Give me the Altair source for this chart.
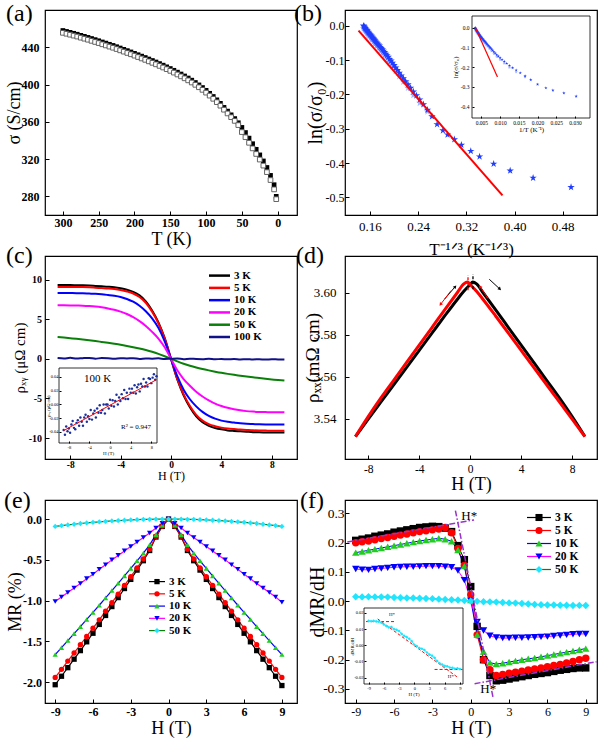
import math
import altair as alt
import pandas as pd

FONT = "Liberation Serif"
TK = 4                      # length of the inward major ticks on the main frames
W = 252                     # plot width of every panel
ROW_H = [205, 203, 203]     # plot height of each row of panels

STAR = ("M0,-1L0.2245,-0.309L0.951,-0.309L0.363,0.118L0.588,0.809L0,0.382"
        "L-0.588,0.809L-0.363,0.118L-0.951,-0.309L-0.2245,-0.309Z")

# field grid (T) shared by the magnetotransport sweeps
H_HALF = [-9, -8.5, -8, -7.5, -7, -6.5, -6, -5.5, -5, -4.5, -4, -3.5, -3, -2.5, -2, -1.5, -1, -0.5,
          0, 0.5, 1, 1.5, 2, 2.5, 3, 3.5, 4, 4.5, 5, 5.5, 6, 6.5, 7, 7.5, 8, 8.5, 9]

# ---------------- (a) conductivity vs temperature ----------------
a_T = [300, 295, 290, 285, 280, 275, 270, 265, 260, 255,
       250, 245, 240, 235, 230, 225, 220, 215, 210, 205,
       200, 195, 190, 185, 180, 175, 170, 165, 160, 155,
       150, 145, 140, 135, 130, 125, 120, 115, 110, 105,
       100, 95, 90, 85, 80, 75, 70, 65, 60, 55,
       50, 45, 40, 35, 30, 25, 20, 15, 10, 5, 2]
a_sigma_solid = [458.0, 457.0, 456.0, 455.0, 454.0, 452.8, 451.7, 450.6, 449.4, 448.2,
                 447.0, 445.7, 444.5, 443.2, 442.0, 440.6, 439.2, 437.8, 436.4, 435.0,
                 433.5, 432.0, 430.5, 429.0, 427.4, 425.8, 424.2, 422.5, 420.8, 419.0,
                 417.2, 415.3, 413.3, 411.3, 409.2, 407.0, 404.7, 402.2, 399.6, 396.8,
                 393.8, 390.6, 387.2, 383.6, 379.8, 375.5, 371.5, 367.5, 363.5, 359.0,
                 354.0, 348.5, 342.5, 336.5, 330.5, 324.5, 318.0, 311.0, 302.5, 292.5, 280.0]
a_sigma_open = [455.5, 454.5, 453.5, 452.5, 451.5, 450.3, 449.2, 448.1, 446.9, 445.7,
                444.5, 443.2, 442.0, 440.7, 439.5, 438.1, 436.7, 435.3, 433.9, 432.5,
                431.0, 429.5, 428.0, 426.5, 424.9, 423.3, 421.7, 420.0, 418.3, 416.5,
                414.7, 412.8, 410.8, 408.8, 406.7, 404.5, 402.2, 399.7, 397.1, 394.3,
                391.3, 388.1, 384.7, 381.1, 377.3, 373.0, 369.0, 365.0, 361.0, 356.5,
                349.0, 343.5, 337.5, 331.5, 325.5, 319.5, 313.0, 306.0, 297.5, 287.5, 277.0]

# ---------------- (b) ln(sigma/sigma0) vs T^-1/3 ----------------
b_T = [300, 295, 290, 285, 280, 275, 270, 265, 260, 255,
       250, 245, 240, 235, 230, 225, 220, 215, 210, 205,
       200, 195, 190, 185, 180, 175, 170, 165, 160, 155,
       150, 145, 140, 135, 130, 125, 120, 115, 110, 105,
       100, 95, 90, 85, 80, 75, 70, 65, 60, 55,
       50, 45, 41.5, 37, 33, 28.5, 25, 20.5, 16.5, 12.5, 8.3]
b_ln = [0.000, -0.002, -0.005, -0.007, -0.009, -0.011, -0.013, -0.015, -0.018, -0.020,
        -0.022, -0.025, -0.027, -0.029, -0.032, -0.035, -0.037, -0.040, -0.043, -0.046,
        -0.049, -0.052, -0.055, -0.058, -0.062, -0.065, -0.069, -0.073, -0.077, -0.082,
        -0.086, -0.091, -0.097, -0.102, -0.108, -0.115, -0.122, -0.129, -0.137, -0.145,
        -0.153, -0.162, -0.171, -0.181, -0.192, -0.203, -0.215, -0.229, -0.245, -0.264,
        -0.287, -0.305, -0.317, -0.331, -0.347, -0.365, -0.381, -0.402, -0.422, -0.443, -0.470]
b_T_second = [300, 290, 280, 270, 260, 250, 240, 230, 220, 210, 200, 190, 180,
              170, 160, 150, 140, 130, 120, 110, 100, 90, 80, 70, 60]
b_ln_second = [-0.008, -0.013, -0.018, -0.022, -0.027, -0.031, -0.036, -0.041, -0.047, -0.053,
               -0.059, -0.065, -0.072, -0.079, -0.087, -0.096, -0.107, -0.118, -0.132, -0.147,
               -0.163, -0.181, -0.202, -0.225, -0.250]
b_fit_x = [0.141, 0.380]
b_fit_ln = [-0.014, -0.494]
b_inset_fit_x = [0.0034, 0.0093]
b_inset_fit_ln = [0.0, -0.25]

# ---------------- (c) Hall resistivity ----------------
c_series = ["3 K", "5 K", "10 K", "20 K", "50 K", "100 K"]
c_3K = [9.30, 9.30, 9.30, 9.29, 9.28, 9.25, 9.20, 9.15, 9.10, 9.03, 8.90, 8.72, 8.45, 8.00, 7.25, 6.10, 4.60, 2.60,
        0.00, -2.60, -4.60, -6.10, -7.25, -8.00, -8.45, -8.72, -8.90, -9.03, -9.10, -9.15, -9.20, -9.25, -9.28,
        -9.29, -9.30, -9.30, -9.30]
c_5K = [9.07, 9.07, 9.07, 9.06, 9.05, 9.02, 8.97, 8.92, 8.87, 8.80, 8.68, 8.50, 8.24, 7.80, 7.07, 5.95, 4.49, 2.54,
        0.00, -2.54, -4.49, -5.95, -7.07, -7.80, -8.24, -8.50, -8.68, -8.80, -8.87, -8.92, -8.97, -9.02, -9.05,
        -9.06, -9.07, -9.07, -9.07]
c_10K = [8.30, 8.30, 8.29, 8.28, 8.26, 8.23, 8.20, 8.14, 8.05, 7.95, 7.80, 7.55, 7.20, 6.70, 6.00, 5.10, 3.90, 2.20,
         0.00, -2.20, -3.90, -5.10, -6.00, -6.70, -7.20, -7.55, -7.80, -7.95, -8.05, -8.14, -8.20, -8.23, -8.26,
         -8.28, -8.29, -8.30, -8.30]
c_20K = [6.75, 6.75, 6.74, 6.72, 6.70, 6.66, 6.60, 6.50, 6.36, 6.18, 5.95, 5.65, 5.25, 4.75, 4.15, 3.40, 2.55, 1.45,
         0.00, -1.45, -2.55, -3.40, -4.15, -4.75, -5.25, -5.65, -5.95, -6.18, -6.36, -6.50, -6.60, -6.66, -6.70,
         -6.72, -6.74, -6.75, -6.75]
c_50K = [2.75, 2.68, 2.60, 2.52, 2.43, 2.34, 2.24, 2.13, 2.02, 1.90, 1.77, 1.62, 1.46, 1.29, 1.10, 0.88, 0.62, 0.32,
         0.00, -0.32, -0.62, -0.88, -1.10, -1.29, -1.46, -1.62, -1.77, -1.90, -2.02, -2.13, -2.24, -2.34, -2.43,
         -2.52, -2.60, -2.68, -2.75]
c_100K = [0.10, 0.05, 0.12, 0.03, 0.08, 0.11, 0.02, 0.09, 0.06, 0.00, 0.07, 0.04, 0.08, -0.01, 0.05, 0.02, 0.06, -0.02,
          0.01, 0.03, -0.04, 0.02, -0.03, -0.05, 0.00, -0.06, -0.02, -0.07, -0.03, -0.08, -0.04, -0.09, -0.05, -0.10,
          -0.06, -0.08, -0.09]
ci_H = [-9, -8.75, -8.5, -8.25, -8, -7.75, -7.5, -7.25, -7, -6.75, -6.5, -6.25, -6, -5.75, -5.5, -5.25, -5, -4.75,
        -4.5, -4.25, -4, -3.75, -3.5, -3.25, -3, -2.75, -2.5, -2.25, -2, -1.75, -1.5, -1.25, -1, -0.75, -0.5, -0.25,
        0, 0.25, 0.5, 0.75, 1, 1.25, 1.5, 1.75, 2, 2.25, 2.5, 2.75, 3, 3.25, 3.5, 3.75, 4, 4.25, 4.5, 4.75,
        5, 5.25, 5.5, 5.75, 6, 6.25, 6.5, 6.75, 7, 7.25, 7.5, 7.75, 8, 8.25, 8.5, 8.75, 9]
ci_rho = [-0.037, -0.044, -0.032, -0.039, -0.035, -0.041, -0.029, -0.024, -0.034, -0.036,
          -0.027, -0.023, -0.031, -0.019, -0.025, -0.031, -0.019, -0.015, -0.025, -0.017,
          -0.021, -0.008, -0.022, -0.013, -0.009, -0.019, -0.006, -0.012, -0.001, -0.012,
          -0.008, 0.000, -0.013, 0.000, 0.000, -0.006, 0.007, -0.002, 0.006, -0.003,
          0.005, 0.014, 0.000, 0.010, 0.005, 0.015, 0.009, 0.021, 0.008, 0.017,
          0.008, 0.023, 0.017, 0.023, 0.017, 0.028, 0.016, 0.025, 0.029, 0.019,
          0.030, 0.026, 0.037, 0.026, 0.032, 0.026, 0.038, 0.037, 0.031, 0.039,
          0.044, 0.036, 0.041]
ci_fit_H = [-9, 9]
ci_fit_rho = [-0.038, 0.036]

# ---------------- (d) longitudinal resistivity, up and down sweeps ----------------
d_H_up = [-9, -8, -7, -6, -5, -4, -3, -2, -1, -0.5, 0, 0.2, 0.5, 1, 2, 3, 4, 5, 6, 7, 8, 9]
d_rho_up = [3.5315, 3.5398, 3.5480, 3.5562, 3.5644, 3.5726, 3.5808, 3.5890, 3.5970, 3.6008, 3.6040,
            3.6052, 3.6043, 3.6002, 3.5919, 3.5835, 3.5751, 3.5667, 3.5583, 3.5499, 3.5410, 3.5315]
d_H_down = [-9, -8, -7, -6, -5, -4, -3, -2, -1, -0.5, -0.2, 0, 0.5, 1, 2, 3, 4, 5, 6, 7, 8, 9]
d_rho_down = [3.5315, 3.5410, 3.5499, 3.5583, 3.5667, 3.5751, 3.5835, 3.5919, 3.6002, 3.6043, 3.6052,
              3.6040, 3.6008, 3.5970, 3.5890, 3.5808, 3.5726, 3.5644, 3.5562, 3.5480, 3.5398, 3.5315]

# ---------------- (e) magnetoresistance ----------------
mr_series = ["3 K", "5 K", "10 K", "20 K", "50 K"]
e_3K = [-2.03, -1.926, -1.821, -1.717, -1.612, -1.504, -1.399, -1.291, -1.181, -1.072, -0.962, -0.851, -0.739,
        -0.625, -0.510, -0.385, -0.22, -0.09, 0.0, -0.09, -0.22, -0.385, -0.510, -0.625, -0.739, -0.851, -0.962,
        -1.072, -1.181, -1.291, -1.399, -1.504, -1.612, -1.717, -1.821, -1.926, -2.04]
e_5K = [-1.94, -1.841, -1.740, -1.641, -1.540, -1.438, -1.337, -1.234, -1.129, -1.024, -0.920, -0.813, -0.706,
        -0.598, -0.487, -0.37, -0.21, -0.085, 0.0, -0.085, -0.21, -0.37, -0.487, -0.598, -0.706, -0.813, -0.920,
        -1.024, -1.129, -1.234, -1.337, -1.438, -1.540, -1.641, -1.740, -1.841, -1.94]
e_10K = [-1.66, -1.575, -1.489, -1.404, -1.318, -1.230, -1.144, -1.056, -0.966, -0.876, -0.787, -0.696, -0.604,
         -0.511, -0.417, -0.315, -0.19, -0.075, 0.0, -0.075, -0.19, -0.315, -0.417, -0.511, -0.604, -0.696, -0.787,
         -0.876, -0.966, -1.056, -1.144, -1.230, -1.318, -1.404, -1.489, -1.575, -1.66]
e_20K = [-1.01, -0.955, -0.90, -0.845, -0.79, -0.73, -0.675, -0.615, -0.56, -0.50, -0.445, -0.39, -0.335,
         -0.28, -0.225, -0.17, -0.11, -0.05, 0.0, -0.05, -0.11, -0.17, -0.225, -0.28, -0.335, -0.39, -0.445,
         -0.50, -0.56, -0.615, -0.675, -0.73, -0.79, -0.845, -0.90, -0.955, -1.02]
e_50K = [-0.090, -0.080, -0.071, -0.063, -0.054, -0.047, -0.040, -0.034, -0.028, -0.023, -0.018, -0.014, -0.010,
         -0.007, -0.004, -0.0025, -0.001, -0.0003, 0.0, -0.0003, -0.001, -0.0025, -0.004, -0.007, -0.010, -0.014,
         -0.018, -0.023, -0.028, -0.034, -0.040, -0.047, -0.054, -0.063, -0.071, -0.080, -0.090]

# ---------------- (f) dMR/dH ----------------
f_3K = [0.208, 0.212, 0.216, 0.222, 0.226, 0.230, 0.236, 0.240, 0.244, 0.248, 0.252, 0.254, 0.256, 0.255,
        0.250, 0.238, 0.190, 0.142, 0.050, -0.086, -0.200, -0.254, -0.272, -0.270, -0.266, -0.262, -0.258,
        -0.254, -0.250, -0.247, -0.244, -0.240, -0.236, -0.233, -0.230, -0.228, -0.228]
f_5K = [0.200, 0.203, 0.206, 0.210, 0.214, 0.218, 0.222, 0.226, 0.230, 0.234, 0.238, 0.241, 0.244, 0.247,
        0.252, 0.234, 0.180, 0.122, 0.022, -0.115, -0.200, -0.234, -0.254, -0.250, -0.246, -0.243, -0.239,
        -0.235, -0.232, -0.228, -0.224, -0.220, -0.216, -0.211, -0.206, -0.200, -0.195]
f_10K = [0.166, 0.170, 0.174, 0.178, 0.182, 0.186, 0.190, 0.194, 0.198, 0.202, 0.206, 0.209, 0.212, 0.215,
         0.212, 0.205, 0.175, 0.120, 0.004, -0.115, -0.172, -0.210, -0.215, -0.212, -0.208, -0.204, -0.200,
         -0.197, -0.194, -0.190, -0.186, -0.182, -0.178, -0.174, -0.170, -0.166, -0.162]
f_20K = [0.110, 0.108, 0.107, 0.110, 0.112, 0.114, 0.116, 0.117, 0.118, 0.118, 0.119, 0.120, 0.120, 0.120,
         0.118, 0.116, 0.105, 0.072, 0.002, -0.071, -0.100, -0.118, -0.124, -0.126, -0.126, -0.125, -0.125,
         -0.124, -0.123, -0.122, -0.121, -0.119, -0.117, -0.115, -0.113, -0.112, -0.112]
f_50K = [0.0150, 0.0148, 0.0150, 0.0147, 0.0146, 0.0140, 0.0128, 0.0118, 0.0110, 0.0112, 0.0100, 0.0095,
         0.0088, 0.0070, 0.0058, 0.0050, 0.0040, 0.0025, 0.0003, -0.0005, -0.0018, -0.0022, -0.0030, -0.0045,
         -0.0058, -0.0065, -0.0078, -0.0098, -0.0112, -0.0120, -0.0128, -0.0130, -0.0138, -0.0140, -0.0145,
         -0.0143, -0.0148]
# guide lines marking H* (start and end field of each segment)
f_guide_H = [-9.66, -1.2, 0.3]
f_guide_d = [0.2025, 0.31, -0.282]
f_guide_H2 = [0.26, 1.75, 9.85]
f_guide_d2 = [0.278, -0.33, -0.207]
fi_guide_H = [-9.5, -7.2, 4.0]
fi_guide_d = [0.0146, 0.0162, -0.0150]
fi_guide_H2 = [-3.8, 8.6, 9.5]
fi_guide_d2 = [0.0146, -0.0200, -0.0150]

# colours
C_BLACK, C_RED, C_BLUE = "#000000", "#ff0000", "#0000ff"
C_GREEN, C_MAGENTA, C_NAVY = "#0a800a", "#ff00ff", "#101088"
C_LGREEN, C_CYAN, C_STAR = "#22cc22", "#1ee6ff", "#1f3cff"
C_PURPLE = "#9932cc"
MR_LINE = [C_BLACK, C_RED, C_BLUE, C_GREEN, C_MAGENTA]
MR_FILL = [C_BLACK, C_RED, C_LGREEN, C_BLUE, C_CYAN]
MR_SHAPE = ["square", "circle", "triangle-up", "triangle-down", "diamond"]


# ---------------- helpers ----------------
def one_row():
    return pd.DataFrame({"k": [0]})


def ax_bottom(values, title, lsize, tsize, lpad, ty, fmt=None, bold=False):
    kw = dict(orient="bottom", values=values, title=title, labelFontSize=lsize, titleFontSize=tsize,
              labelPadding=lpad, titleY=ty + TK, titleBaseline="top", offset=-TK, tickSize=TK,
              domain=False, grid=False, labelFlush=False, labelOverlap=False,
              labelFontWeight="bold" if bold else "normal", titleFontWeight="normal")
    if fmt:
        kw["format"] = fmt
    return alt.Axis(**kw)


def ax_left(values, title, lsize, tsize, lpad, tx, fmt=None, bold=False):
    kw = dict(orient="left", values=values, title=title, labelFontSize=lsize, titleFontSize=tsize,
              labelPadding=lpad, titleX=tx - TK, titleAngle=270, titleBaseline="bottom",
              offset=-TK, tickSize=TK, domain=False, grid=False, labelFlush=False, labelOverlap=False,
              labelFontWeight="bold" if bold else "normal", titleFontWeight="normal")
    if fmt:
        kw["format"] = fmt
    return alt.Axis(**kw)


def inset_bottom(values, fmt, title, ybot, h, lsize, tsize, lpad, ty, tk=2):
    return alt.Axis(orient="bottom", values=values, format=fmt, title=title, offset=ybot - tk - h,
                    tickSize=tk, domain=False, grid=False, labelFontSize=lsize, titleFontSize=tsize,
                    labelPadding=lpad, titleY=ty + tk, titleBaseline="top", labelFlush=False,
                    labelOverlap=False, zindex=1, titleFontWeight="normal")


def inset_left(values, fmt, title, xleft, lsize, tsize, lpad, tx, tk=2):
    return alt.Axis(orient="left", values=values, format=fmt, title=title, offset=-(xleft + tk),
                    tickSize=tk, domain=False, grid=False, labelFontSize=lsize, titleFontSize=tsize,
                    labelPadding=lpad, titleX=tx - tk, titleAngle=270, titleBaseline="bottom",
                    labelFlush=False, labelOverlap=False, zindex=1, titleFontWeight="normal")


def tag(text, x, y):
    return alt.Chart(pd.DataFrame({"t": [text]})).mark_text(
        align="left", baseline="top", fontSize=24, font=FONT, color="black"
    ).encode(x=alt.value(x), y=alt.value(y), text="t:N")


def note(text, x, y, size, align="left", weight="normal"):
    return alt.Chart(pd.DataFrame({"t": [text]})).mark_text(
        align=align, baseline="middle", fontSize=size, font=FONT, fontWeight=weight, color="black"
    ).encode(x=alt.value(x), y=alt.value(y), text="t:N")


def frame(x0, x1, y0, y1):
    return alt.Chart(one_row()).mark_rect(fill="white", stroke="black", strokeWidth=0.8).encode(
        x=alt.value(x0), x2=alt.value(x1), y=alt.value(y0), y2=alt.value(y1))


def key(names, line_cols, x0, x1, xt, y0, y1, lw, fs, fills=None, shapes=None, xm=None, psize=30):
    df = pd.DataFrame({"series": names, "row": list(range(len(names)))})
    ly = alt.Y("row:Q", scale=alt.Scale(domain=[0, len(names) - 1], range=[y0, y1]), axis=None)
    layers = [alt.Chart(df).mark_rule(strokeWidth=lw).encode(
        x=alt.value(x0), x2=alt.value(x1), y=ly,
        stroke=alt.Stroke("series:N", scale=alt.Scale(domain=names, range=line_cols), legend=None))]
    if fills:
        layers.append(alt.Chart(df).mark_point(filled=True, opacity=1, size=psize).encode(
            x=alt.value(xm), y=ly,
            fill=alt.Fill("series:N", scale=alt.Scale(domain=names, range=fills), legend=None),
            shape=alt.Shape("series:N", scale=alt.Scale(domain=names, range=shapes), legend=None)))
    layers.append(alt.Chart(df).mark_text(align="left", baseline="middle", fontSize=fs,
                                          fontWeight="bold", font=FONT, color="black").encode(
        x=alt.value(xt), y=ly, text="series:N"))
    return alt.layer(*layers)


def long_table(names, arrays, grid, field):
    rows = []
    for name, arr in zip(names, arrays):
        for h, v in zip(grid, arr):
            rows.append({"H": h, field: v, "series": name})
    return pd.DataFrame(rows)


# ---------------- panel (a) ----------------
df_a = pd.DataFrame({"T": a_T, "solid": a_sigma_solid, "open": a_sigma_open})
xa = alt.X("T:Q", scale=alt.Scale(domain=[-27, 325], reverse=True, nice=False, zero=False),
           axis=ax_bottom([300, 250, 200, 150, 100, 50, 0], "T (K)", 12, 18, 2, 15.5, bold=True))
sc_ya = alt.Scale(domain=[260, 480], nice=False, zero=False)
ay = ax_left([280, 320, 360, 400, 440], "σ (S/cm)", 12, 18, 6, -22, bold=True)
anchor = alt.Chart(one_row()).mark_rule(opacity=0, strokeWidth=1).encode(
    x=alt.value(-43.5), x2=alt.value(-43), y=alt.value(-8.5))
panel_a = alt.layer(
    alt.Chart(df_a).mark_point(shape="square", filled=True, fill="black", size=22, opacity=1).encode(
        x=xa, y=alt.Y("solid:Q", scale=sc_ya, axis=ay)),
    alt.Chart(df_a).mark_point(shape="square", filled=True, fill="white", stroke="#555555",
                               strokeWidth=0.9, size=22, opacity=1).encode(
        x=xa, y=alt.Y("open:Q", scale=sc_ya, axis=ay)),
    tag("(a)", -39, -8.4),
    anchor,
).properties(width=W, height=ROW_H[0])

# ---------------- panel (b) ----------------
df_b = pd.DataFrame({"T": b_T, "ln": b_ln})
df_b["x"] = df_b["T"] ** (-1.0 / 3.0)
df_b["inv"] = 1.0 / df_b["T"]
df_b2 = pd.DataFrame({"T": b_T_second, "ln": b_ln_second})
df_b2["x"] = df_b2["T"] ** (-1.0 / 3.0)
df_b2["inv"] = 1.0 / df_b2["T"]
df_bfit = pd.DataFrame({"x": b_fit_x, "ln": b_fit_ln})
df_bifit = pd.DataFrame({"inv": b_inset_fit_x, "ln": b_inset_fit_ln})

xb = alt.X("x:Q", scale=alt.Scale(domain=[0.1185, 0.537], nice=False, zero=False),
           axis=ax_bottom([0.16, 0.24, 0.32, 0.40, 0.48], "T⁻¹ᐟ³ (K⁻¹ᐟ³)", 13, 17, 5.3, 26, fmt=".2f"))
yb = alt.Y("ln:Q", scale=alt.Scale(domain=[-0.551, 0.046], nice=False, zero=False),
           axis=ax_left([0.0, -0.1, -0.2, -0.3, -0.4, -0.5], "ln(σ/σ₀)", 12, 20, 1, -20, fmt=".1f"))
main_b = alt.layer(
    alt.Chart(df_b2).mark_point(shape=STAR, filled=True, fill="#9fb4ff", size=60, opacity=1).encode(x=xb, y=yb),
    alt.Chart(df_b).mark_point(shape=STAR, filled=True, fill=C_STAR, size=60, opacity=1).encode(x=xb, y=yb),
    alt.Chart(df_bfit).mark_line(color=C_RED, strokeWidth=2).encode(x=xb, y=yb),
    tag("(b)", -51, -8.4),
)
xbi = alt.X("inv:Q", scale=alt.Scale(domain=[0.0025, 0.034], range=[127, 245], nice=False, zero=False),
            axis=inset_bottom([0.005, 0.010, 0.015, 0.020, 0.025, 0.030], ".3f", "1/T (K⁻¹)",
                              108, ROW_H[0], 5.5, 7, 2, 7))
ybi = alt.Y("ln:Q", scale=alt.Scale(domain=[-0.457, 0.059], range=[108, 6], nice=False, zero=False),
            axis=inset_left([0.0, -0.1, -0.2, -0.3, -0.4], ".1f", "ln(σ/σ₀)", 127, 5.5, 7, 3, -14))
inset_b = alt.layer(
    frame(127, 245, 6, 108),
    alt.Chart(df_b2).mark_point(shape=STAR, filled=True, fill="#9fb4ff", size=12, opacity=1).encode(x=xbi, y=ybi),
    alt.Chart(df_b[df_b["T"] >= 30]).mark_point(shape=STAR, filled=True, fill=C_STAR, size=12,
                                                opacity=1).encode(x=xbi, y=ybi),
    alt.Chart(df_bifit).mark_line(color=C_RED, strokeWidth=1.2).encode(x=xbi, y=ybi),
)
panel_b = alt.layer(main_b, inset_b).resolve_scale(x="independent", y="independent").properties(
    width=W, height=ROW_H[0])

# ---------------- panel (c) ----------------
c_cols = [C_BLACK, C_RED, C_BLUE, C_MAGENTA, C_GREEN, C_NAVY]
df_c = long_table(c_series, [c_3K, c_5K, c_10K, c_20K, c_50K, c_100K], H_HALF, "rho")
xc = alt.X("H:Q", scale=alt.Scale(domain=[-10, 10], nice=False, zero=False),
           axis=ax_bottom([-8, -4, 0, 4, 8], "H (T)", 9.5, 12, 0.5, 11.5, fmt="d", bold=True))
yc = alt.Y("rho:Q", scale=alt.Scale(domain=[-12.64, 12.97], nice=False, zero=False),
           axis=ax_left([-10, -5, 0, 5, 10], "ρₓᵧ (μΩ cm)", 10, 15, 3.5, -18, fmt="d", bold=True))
main_c = alt.layer(
    alt.Chart(df_c).mark_line(strokeWidth=2, interpolate="monotone").encode(
        x=xc, y=yc, stroke=alt.Stroke("series:N", scale=alt.Scale(domain=c_series, range=c_cols), legend=None)),
    tag("(c)", -39, -12.4),
)
df_ci = pd.DataFrame({"H": ci_H, "rho": ci_rho})
df_cifit = pd.DataFrame({"H": ci_fit_H, "rho": ci_fit_rho})
xci = alt.X("H:Q", scale=alt.Scale(domain=[-9.9, 9.1], range=[14, 112], nice=False, zero=False),
            axis=inset_bottom([-8, -4, 0, 4, 8], "d", "H (T)", 187, ROW_H[1], 4.5, 5, 1.5, 7))
yci = alt.Y("rho:Q", scale=alt.Scale(domain=[-0.056, 0.053], range=[187, 112], nice=False, zero=False),
            axis=inset_left([-0.04, -0.02, 0, 0.02, 0.04], ".2f", "ρₓᵧ (μΩ cm)", 14, 4.5, 4.5, 1, -9))
inset_c = alt.layer(
    frame(14, 112, 112, 187),
    alt.Chart(df_ci).mark_circle(color="#1c2f9e", size=6, opacity=1).encode(x=xci, y=yci),
    alt.Chart(df_cifit).mark_line(color=C_RED, strokeWidth=1).encode(x=xci, y=yci),
    note("100 K", 39, 123, 11),
    note("R² = 0.947", 76, 171, 7),
)
key_c = key(c_series, c_cols, 164, 185, 189, 19.6, 81, 2.5, 11)
panel_c = alt.layer(main_c, inset_c, key_c).resolve_scale(x="independent", y="independent").properties(
    width=W, height=ROW_H[1])

# ---------------- panel (d) ----------------
xd_scale = alt.Scale(domain=[-9.82, 9.95], nice=False, zero=False)
yd_scale = alt.Scale(domain=[3.5208, 3.6176], nice=False, zero=False)
xd_axis = ax_bottom([-8, -4, 0, 4, 8], "H (T)", 11.5, 18, 4, 16, fmt="d")
yd_axis = ax_left([3.54, 3.56, 3.58, 3.60], "ρₓₓ(mΩ cm)", 13, 19, 9, -23, fmt=".2f")


def xd(field):
    return alt.X(field, scale=xd_scale, axis=xd_axis)


def yd(field):
    return alt.Y(field, scale=yd_scale, axis=yd_axis)


df_up = pd.DataFrame({"H": d_H_up, "rho": d_rho_up})
df_down = pd.DataFrame({"H": d_H_down, "rho": d_rho_down})

# sweep-direction arrows: start point -> end point
px_H = W / (9.95 + 9.82)
px_rho = ROW_H[1] / (3.6176 - 3.5208)


def arrows(h0, r0, h1, r1):
    df = pd.DataFrame({"H": h0, "rho": r0, "H2": h1, "rho2": r1})
    df["ang"] = [
        (math.degrees(math.atan2((b - a) * px_H, (d - c) * px_rho)) + 360) % 360
        for a, b, c, d in zip(h0, h1, r0, r1)
    ]
    return df


arr_black = arrows([-2.0, 1.5], [3.5971, 3.6065], [-1.2, 2.3], [3.6028, 3.6020])
arr_red = arrows([-1.5, 1.4], [3.6011, 3.5973], [-2.3, 0.8], [3.5947, 3.6028])
peak_black = pd.DataFrame({"H": [0.22], "rho": [3.6017], "rho2": [3.6090]})
peak_red = pd.DataFrame({"H": [-0.17], "rho": [3.6013], "rho2": [3.6085]})


def arrow_layers(df, col):
    return [
        alt.Chart(df).mark_rule(color=col, strokeWidth=1).encode(
            x=xd("H:Q"), y=yd("rho:Q"), x2="H2:Q", y2="rho2:Q"),
        alt.Chart(df).mark_point(shape="triangle", filled=True, fill=col, size=14, opacity=1).encode(
            x=xd("H2:Q"), y=yd("rho2:Q"), angle=alt.Angle("ang:Q", scale=None)),
    ]


panel_d = alt.layer(
    alt.Chart(df_up).mark_line(color=C_BLACK, strokeWidth=3, interpolate="monotone").encode(
        x=xd("H:Q"), y=yd("rho:Q")),
    alt.Chart(df_down).mark_line(color=C_RED, strokeWidth=3, interpolate="monotone").encode(
        x=xd("H:Q"), y=yd("rho:Q")),
    alt.Chart(peak_black).mark_rule(color=C_BLACK, strokeWidth=1.3, strokeDash=[3, 2]).encode(
        x=xd("H:Q"), y=yd("rho:Q"), y2="rho2:Q"),
    alt.Chart(peak_red).mark_rule(color=C_RED, strokeWidth=1.3, strokeDash=[3, 2]).encode(
        x=xd("H:Q"), y=yd("rho:Q"), y2="rho2:Q"),
    *arrow_layers(arr_black, C_BLACK),
    *arrow_layers(arr_red, C_RED),
    tag("(d)", -49, -12.4),
).properties(width=W, height=ROW_H[1])

# ---------------- panel (e) ----------------
df_e = long_table(mr_series, [e_3K, e_5K, e_10K, e_20K, e_50K], H_HALF, "mr")
xe = alt.X("H:Q", scale=alt.Scale(domain=[-9.81, 10.2], nice=False, zero=False),
           axis=ax_bottom([-9, -6, -3, 0, 3, 6, 9], "H (T)", 12, 18, 3, 16, fmt="d", bold=True))
ye = alt.Y("mr:Q", scale=alt.Scale(domain=[-2.254, 0.234], nice=False, zero=False),
           axis=ax_left([0, -0.5, -1, -1.5, -2], "MR (%)", 12, 18, 3.5, -21, fmt=".1f", bold=True))
main_e = alt.layer(
    alt.Chart(df_e).mark_line(strokeWidth=1.2).encode(
        x=xe, y=ye, stroke=alt.Stroke("series:N", scale=alt.Scale(domain=mr_series, range=MR_LINE), legend=None)),
    alt.Chart(df_e).mark_point(filled=True, opacity=1, size=28).encode(
        x=xe, y=ye,
        fill=alt.Fill("series:N", scale=alt.Scale(domain=mr_series, range=MR_FILL), legend=None),
        shape=alt.Shape("series:N", scale=alt.Scale(domain=mr_series, range=MR_SHAPE), legend=None)),
    tag("(e)", -41, -11.4),
)
key_e = key(mr_series, MR_LINE, 104, 120, 124, 81.6, 130.6, 1.2, 11,
            fills=MR_FILL, shapes=MR_SHAPE, xm=112, psize=28)
panel_e = alt.layer(main_e, key_e).resolve_scale(y="independent").properties(width=W, height=ROW_H[2])

# ---------------- panel (f) ----------------
df_f = long_table(mr_series, [f_3K, f_5K, f_10K, f_20K, f_50K], H_HALF, "d")
xf_scale = alt.Scale(domain=[-9.84, 9.88], nice=False, zero=False)
yf_scale = alt.Scale(domain=[-0.348, 0.346], nice=False, zero=False)
xf_axis = ax_bottom([-9, -6, -3, 0, 3, 6, 9], "H (T)", 12, 18, 3, 16.5, fmt="d")
yf_axis = ax_left([-0.3, -0.2, -0.1, 0, 0.1, 0.2, 0.3], "dMR/dH", 13.5, 20, 1, -18, fmt=".1f")


def xf(field):
    return alt.X(field, scale=xf_scale, axis=xf_axis)


def yf(field):
    return alt.Y(field, scale=yf_scale, axis=yf_axis)


df_guide = pd.DataFrame({"H": f_guide_H, "d": f_guide_d, "H2": f_guide_H2, "d2": f_guide_d2})
df_hstar = pd.DataFrame({"H": [-0.74, 0.75], "d": [0.276, -0.315], "t": ["H*", "H*"]})
main_f = alt.layer(
    alt.Chart(df_f).mark_line(strokeWidth=1).encode(
        x=xf("H:Q"), y=yf("d:Q"),
        stroke=alt.Stroke("series:N", scale=alt.Scale(domain=mr_series, range=MR_LINE), legend=None)),
    alt.Chart(df_f).mark_point(filled=True, opacity=1, size=55).encode(
        x=xf("H:Q"), y=yf("d:Q"),
        fill=alt.Fill("series:N", scale=alt.Scale(domain=mr_series, range=MR_FILL), legend=None),
        shape=alt.Shape("series:N", scale=alt.Scale(domain=mr_series, range=MR_SHAPE), legend=None)),
    alt.Chart(df_guide).mark_rule(color=C_PURPLE, strokeWidth=1.5, strokeDash=[6, 2, 1.5, 2]).encode(
        x=xf("H:Q"), y=yf("d:Q"), x2="H2:Q", y2="d2:Q"),
    alt.Chart(df_hstar).mark_text(align="left", baseline="alphabetic", fontSize=13, font=FONT,
                                  color="black").encode(x=xf("H:Q"), y=yf("d:Q"), text="t:N"),
    tag("(f)", -45, -11.4),
)
df_fi = pd.DataFrame({"H": H_HALF, "d": f_50K})
df_fig = pd.DataFrame({"H": fi_guide_H, "d": fi_guide_d, "H2": fi_guide_H2, "d2": fi_guide_d2})
df_fistar = pd.DataFrame({"H": [-5.0, 6.6], "d": [0.0180, -0.0200], "t": ["H*", "H*"]})
xfi = alt.X("H:Q", scale=alt.Scale(domain=[-9.9, 9.6], range=[19, 118], nice=False, zero=False),
            axis=inset_bottom([-9, -6, -3, 0, 3, 6, 9], "d", "H (T)", 184, ROW_H[2], 4.5, 5, 1.5, 7))
yfi = alt.Y("d:Q", scale=alt.Scale(domain=[-0.024, 0.023], range=[184, 108], nice=False, zero=False),
            axis=inset_left([-0.02, -0.01, 0, 0.01, 0.02], ".2f", "dMR/dH", 19, 4.5, 5, 1, -10))
inset_f = alt.layer(
    frame(19, 118, 108, 184),
    alt.Chart(df_fig).mark_rule(color=C_RED, strokeWidth=1, strokeDash=[3, 2]).encode(
        x=xfi, y=yfi, x2="H2:Q", y2="d2:Q"),
    alt.Chart(df_fi).mark_line(color=C_CYAN, strokeWidth=1).encode(x=xfi, y=yfi),
    alt.Chart(df_fi).mark_point(shape="diamond", filled=True, fill=C_CYAN, size=10, opacity=1).encode(x=xfi, y=yfi),
    alt.Chart(df_fistar).mark_text(align="left", baseline="alphabetic", fontSize=5, font=FONT,
                                   color="black").encode(x=xfi, y=yfi, text="t:N"),
)
key_f = key(mr_series, MR_LINE, 182, 206, 210, 17.5, 69.5, 1.2, 11.5,
            fills=MR_FILL, shapes=MR_SHAPE, xm=194, psize=50)
panel_f = alt.layer(main_f, inset_f, key_f).resolve_scale(x="independent", y="independent").properties(
    width=W, height=ROW_H[2])

# ---------------- assemble ----------------
chart = alt.concat(
    panel_a, panel_b, panel_c, panel_d, panel_e, panel_f,
    columns=2, spacing={"row": 41, "column": 48}, bounds="flush",
).properties(
    padding={"left": 0, "top": 0, "right": 0, "bottom": 0}, background="white"
).configure(
    font=FONT,
    locale={"number": {"decimal": ".", "thousands": ",", "grouping": [3],
                       "currency": ["$", ""], "minus": "-"}},
).configure_axis(
    labelFont=FONT, titleFont=FONT, labelColor="black", titleColor="black",
    tickColor="black", tickWidth=1, domainColor="black", grid=False,
).configure_view(stroke="black", strokeWidth=1.2)

chart.save("out.html", embed_options={"renderer": "svg", "actions": False})
